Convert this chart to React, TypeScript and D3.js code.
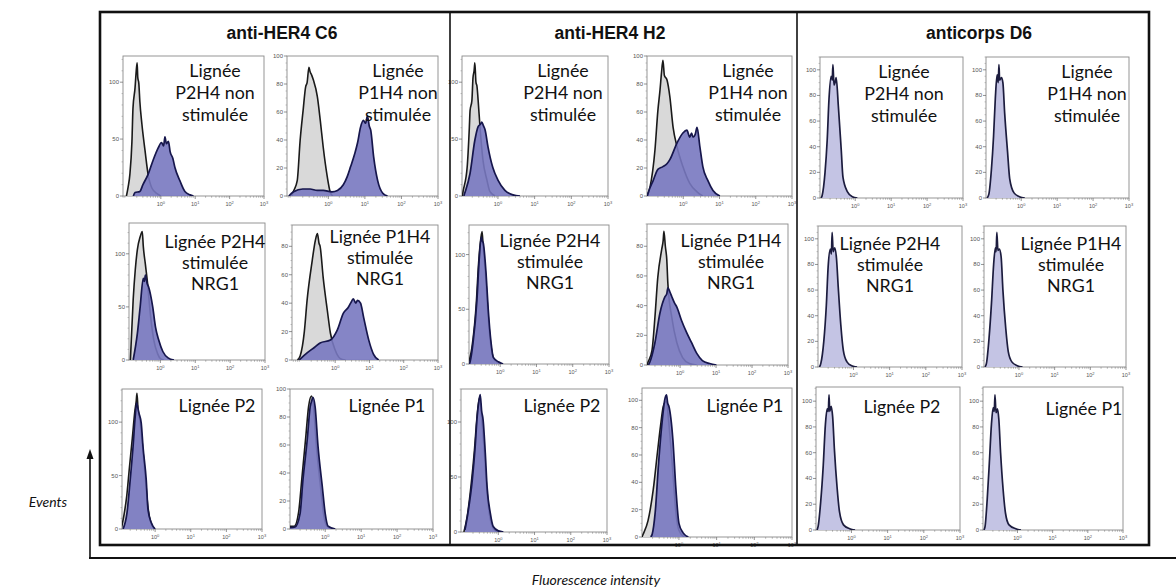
import React from "react";
import * as d3 from "d3";

type Pt = [number, number];

// ---------- text data ----------
const groupTitles = ["anti-HER4 C6", "anti-HER4 H2", "anticorps D6"];
const labelP2H4ns = ["Lignée", "P2H4 non", "stimulée"];
const labelP1H4ns = ["Lignée", "P1H4 non", "stimulée"];
const labelP2H4s = ["Lignée P2H4", "stimulée", "NRG1"];
const labelP1H4s = ["Lignée P1H4", "stimulée", "NRG1"];
const labelP2 = ["Lignée P2"];
const labelP1 = ["Lignée P1"];
const xTickValues = [0, 1, 2, 3];
const xTickBase = "10";
const xTickExponents = ["0", "1", "2", "3"];
const yAxisTitle = "Events";
const xAxisTitle = "Fluorescence intensity";

// ---------- axis domains per panel (log10 fluorescence min, count max, tick step) ----------
const xMins = [-1.1, -1.13, -0.9, -1.26, -0.93, -0.98, -0.98, -1.0, -0.86, -0.92, -1.03, -0.98, -0.98, -0.98, -0.98, -0.98, -0.98, -0.98];
const yMaxes = [123, 100, 129, 95, 131, 100, 123, 100, 127, 95, 130, 109, 110, 110, 110, 110, 111, 111];
const yTickSteps = [50, 20, 50, 20, 50, 20, 50, 20, 50, 20, 50, 20, 20, 20, 20, 20, 20, 20];
const xMaxLog = 3;

// ---------- histogram series: [log10 intensity, events] ----------
// anti-HER4 C6
const c6P2H4nsControl: Pt[] = [[-1.0, 0], [-0.95, 8], [-0.9, 19], [-0.84, 48], [-0.81, 77], [-0.75, 95], [-0.72, 108], [-0.69, 117], [-0.67, 104], [-0.64, 99], [-0.61, 83], [-0.55, 63], [-0.46, 40], [-0.37, 19], [-0.26, 7], [-0.11, 2], [0.0, 0]];
const c6P2H4nsStain: Pt[] = [[-0.8, 0], [-0.75, 3], [-0.61, 4], [-0.52, 10], [-0.37, 19], [-0.23, 31], [-0.08, 42], [0.02, 47], [0.08, 44], [0.12, 52], [0.16, 46], [0.22, 48], [0.27, 39], [0.35, 33], [0.41, 25], [0.56, 13], [0.7, 4], [0.85, 1], [0.95, 0]];
const c6P1H4nsControl: Pt[] = [[-1.0, 0], [-0.96, 3], [-0.85, 11], [-0.77, 40], [-0.69, 61], [-0.62, 78], [-0.58, 81], [-0.53, 92], [-0.5, 89], [-0.45, 86], [-0.41, 83], [-0.3, 71], [-0.22, 54], [-0.14, 35], [-0.03, 14], [0.05, 3], [0.12, 0]];
const c6P1H4nsStain: Pt[] = [[-1.08, 0], [-0.95, 3], [-0.7, 5], [-0.5, 5], [-0.3, 4], [-0.14, 4], [0.1, 3], [0.25, 4], [0.41, 8], [0.52, 14], [0.61, 21], [0.72, 30], [0.8, 38], [0.88, 49], [0.96, 54], [1.02, 52], [1.07, 57], [1.12, 50], [1.16, 47], [1.24, 28], [1.35, 11], [1.49, 2], [1.62, 0]];
const c6P2H4sControl: Pt[] = [[-0.86, 0], [-0.78, 57], [-0.72, 85], [-0.66, 104], [-0.58, 116], [-0.52, 121], [-0.49, 107], [-0.43, 90], [-0.37, 73], [-0.28, 41], [-0.19, 19], [-0.08, 6], [0.01, 1], [0.1, 0]];
const c6P2H4sStain: Pt[] = [[-0.78, 0], [-0.66, 25], [-0.58, 50], [-0.49, 77], [-0.46, 74], [-0.43, 80], [-0.38, 72], [-0.34, 69], [-0.22, 50], [-0.14, 31], [-0.05, 19], [0.07, 8], [0.22, 2], [0.39, 0]];
const c6P1H4sControl: Pt[] = [[-1.1, 0], [-1.02, 3], [-0.9, 20], [-0.82, 42], [-0.67, 70], [-0.58, 84], [-0.52, 89], [-0.47, 82], [-0.44, 80], [-0.35, 58], [-0.23, 35], [-0.14, 19], [0.0, 7], [0.15, 1], [0.3, 0]];
const c6P1H4sStain: Pt[] = [[-1.05, 0], [-0.82, 5], [-0.6, 9], [-0.44, 12], [-0.14, 14], [0.06, 21], [0.24, 33], [0.38, 37], [0.45, 40], [0.53, 43], [0.6, 40], [0.65, 42], [0.74, 40], [0.83, 30], [0.98, 14], [1.12, 4], [1.27, 0]];
const c6P2Control: Pt[] = [[-0.95, 0], [-0.88, 12], [-0.8, 30], [-0.72, 58], [-0.64, 85], [-0.57, 110], [-0.53, 120], [-0.51, 127], [-0.48, 112], [-0.42, 100], [-0.36, 80], [-0.28, 50], [-0.2, 20], [-0.12, 6], [-0.02, 0]];
const c6P2Stain: Pt[] = [[-0.9, 0], [-0.79, 15], [-0.7, 46], [-0.62, 77], [-0.56, 105], [-0.52, 118], [-0.49, 114], [-0.45, 108], [-0.39, 99], [-0.34, 77], [-0.25, 46], [-0.2, 18], [-0.11, 6], [0.0, 0]];
const c6P1Control: Pt[] = [[-0.98, 2], [-0.86, 2], [-0.74, 12], [-0.65, 36], [-0.54, 66], [-0.46, 88], [-0.38, 95], [-0.32, 86], [-0.24, 58], [-0.12, 28], [-0.04, 10], [0.05, 2], [0.2, 0]];
const c6P1Stain: Pt[] = [[-0.98, 1], [-0.84, 1.5], [-0.7, 11], [-0.62, 35], [-0.5, 64], [-0.42, 87], [-0.37, 92], [-0.34, 94], [-0.28, 87], [-0.2, 59], [-0.08, 30], [0.0, 11], [0.08, 2], [0.28, 0]];
// anti-HER4 H2
const h2P2H4nsControl: Pt[] = [[-0.97, 0], [-0.95, 4], [-0.84, 25], [-0.78, 60], [-0.76, 75], [-0.71, 84], [-0.68, 104], [-0.65, 110], [-0.63, 117], [-0.6, 100], [-0.57, 96], [-0.54, 84], [-0.49, 61], [-0.41, 32], [-0.3, 14], [-0.22, 4], [-0.08, 0]];
const h2P2H4nsStain: Pt[] = [[-0.93, 0], [-0.9, 3], [-0.76, 20], [-0.63, 49], [-0.54, 61], [-0.48, 63], [-0.44, 65], [-0.4, 62], [-0.35, 58], [-0.27, 43], [-0.14, 25], [0.0, 14], [0.19, 5], [0.41, 1], [0.6, 0]];
const h2P1H4nsControl: Pt[] = [[-1.0, 0], [-0.92, 6], [-0.78, 33], [-0.7, 61], [-0.64, 76], [-0.6, 88], [-0.56, 97], [-0.52, 86], [-0.45, 83], [-0.37, 71], [-0.28, 49], [-0.17, 35], [-0.01, 21], [0.18, 9], [0.38, 3], [0.54, 0]];
const h2P1H4nsStain: Pt[] = [[-0.99, 0], [-0.97, 2], [-0.83, 11], [-0.7, 19], [-0.56, 21], [-0.45, 23], [-0.37, 26], [-0.17, 38], [-0.01, 45], [0.1, 47], [0.18, 42], [0.23, 45], [0.27, 42], [0.33, 44], [0.38, 49], [0.46, 35], [0.54, 21], [0.68, 11], [0.82, 4], [1.01, 0]];
const h2P2H4sControl: Pt[] = [[-0.88, 0], [-0.78, 15], [-0.66, 55], [-0.6, 90], [-0.55, 110], [-0.5, 121], [-0.47, 108], [-0.4, 80], [-0.34, 48], [-0.26, 18], [-0.18, 5], [-0.05, 1], [0.05, 0]];
const h2P2H4sStain: Pt[] = [[-0.85, 0], [-0.83, 2], [-0.75, 19], [-0.64, 59], [-0.58, 95], [-0.52, 116], [-0.49, 112], [-0.47, 111], [-0.39, 83], [-0.33, 50], [-0.25, 19], [-0.19, 6], [-0.05, 2], [0.08, 0]];
const h2P1H4sControl: Pt[] = [[-0.92, 0], [-0.89, 2], [-0.78, 10], [-0.7, 32], [-0.62, 59], [-0.51, 78], [-0.47, 84], [-0.45, 90], [-0.41, 80], [-0.37, 71], [-0.34, 55], [-0.23, 32], [-0.09, 15], [0.07, 5], [0.26, 1], [0.46, 0]];
const h2P1H4sStain: Pt[] = [[-0.88, 0], [-0.84, 2], [-0.7, 15], [-0.56, 35], [-0.42, 46], [-0.37, 48], [-0.34, 52], [-0.28, 49], [-0.23, 46], [-0.16, 42], [-0.09, 39], [0.04, 30], [0.18, 22], [0.32, 15], [0.46, 8], [0.62, 3], [0.82, 1], [1.01, 0]];
const h2P2Control: Pt[] = [[-0.95, 0], [-0.86, 14], [-0.75, 43], [-0.66, 74], [-0.6, 100], [-0.52, 122], [-0.45, 100], [-0.38, 70], [-0.32, 40], [-0.24, 15], [-0.15, 4], [-0.02, 0]];
const h2P2Stain: Pt[] = [[-0.92, 2], [-0.84, 17], [-0.72, 47], [-0.64, 77], [-0.59, 102], [-0.54, 118], [-0.5, 125], [-0.46, 110], [-0.42, 102], [-0.36, 72], [-0.31, 41], [-0.22, 17], [-0.14, 5], [0.0, 1], [0.14, 0]];
const h2P1Control: Pt[] = [[-0.98, 0], [-0.95, 2], [-0.82, 12], [-0.68, 35], [-0.57, 62], [-0.49, 81], [-0.41, 96], [-0.33, 99], [-0.27, 84], [-0.16, 47], [-0.08, 18], [0.0, 5], [0.14, 0]];
const h2P1Stain: Pt[] = [[-0.75, 0], [-0.71, 2], [-0.63, 18], [-0.54, 54], [-0.44, 86], [-0.38, 100], [-0.33, 104], [-0.3, 98], [-0.27, 96], [-0.16, 71], [-0.08, 35], [0.0, 10], [0.11, 3], [0.25, 0]];
// anticorps D6 (single lavender histogram)
const d6P2H4nsStain: Pt[] = [[-0.95, 0], [-0.92, 2], [-0.84, 20], [-0.78, 45], [-0.73, 77], [-0.67, 95], [-0.64, 92], [-0.62, 104], [-0.59, 88], [-0.56, 90], [-0.53, 94], [-0.47, 72], [-0.39, 38], [-0.34, 16], [-0.22, 5], [-0.08, 1], [0.06, 0]];
const d6P1H4nsStain: Pt[] = [[-0.95, 0], [-0.9, 3], [-0.83, 22], [-0.77, 48], [-0.72, 78], [-0.67, 96], [-0.64, 90], [-0.62, 104], [-0.6, 92], [-0.55, 94], [-0.51, 90], [-0.46, 66], [-0.38, 36], [-0.32, 15], [-0.2, 4], [-0.05, 1], [0.1, 0]];
const d6P2H4sStain: Pt[] = [[-0.94, 0], [-0.9, 3], [-0.82, 20], [-0.75, 48], [-0.7, 78], [-0.64, 92], [-0.61, 88], [-0.59, 105], [-0.56, 90], [-0.52, 93], [-0.47, 85], [-0.42, 62], [-0.35, 33], [-0.28, 13], [-0.18, 4], [-0.05, 1], [0.1, 0]];
const d6P1H4sStain: Pt[] = [[-0.95, 0], [-0.91, 3], [-0.84, 22], [-0.77, 50], [-0.71, 80], [-0.66, 93], [-0.64, 90], [-0.62, 105], [-0.59, 91], [-0.55, 92], [-0.5, 86], [-0.45, 60], [-0.37, 30], [-0.3, 12], [-0.2, 4], [-0.05, 1], [0.1, 0]];
const d6P2Stain: Pt[] = [[-0.95, 0], [-0.92, 3], [-0.85, 22], [-0.78, 50], [-0.72, 82], [-0.67, 94], [-0.64, 92], [-0.62, 105], [-0.6, 92], [-0.56, 96], [-0.52, 88], [-0.47, 62], [-0.4, 34], [-0.33, 14], [-0.22, 4], [-0.05, 1], [0.1, 0]];
const d6P1Stain: Pt[] = [[-0.95, 0], [-0.92, 3], [-0.86, 24], [-0.8, 52], [-0.74, 82], [-0.69, 95], [-0.66, 92], [-0.64, 105], [-0.61, 91], [-0.57, 94], [-0.53, 86], [-0.48, 60], [-0.41, 32], [-0.34, 13], [-0.24, 4], [-0.05, 1], [0.1, 0]];

const controls: Pt[][] = [
  c6P2H4nsControl, c6P1H4nsControl, c6P2H4sControl, c6P1H4sControl, c6P2Control, c6P1Control,
  h2P2H4nsControl, h2P1H4nsControl, h2P2H4sControl, h2P1H4sControl, h2P2Control, h2P1Control,
  [], [], [], [], [], [],
];
const stains: Pt[][] = [
  c6P2H4nsStain, c6P1H4nsStain, c6P2H4sStain, c6P1H4sStain, c6P2Stain, c6P1Stain,
  h2P2H4nsStain, h2P1H4nsStain, h2P2H4sStain, h2P1H4sStain, h2P2Stain, h2P1Stain,
  d6P2H4nsStain, d6P1H4nsStain, d6P2H4sStain, d6P1H4sStain, d6P2Stain, d6P1Stain,
];
const labels: string[][] = [
  labelP2H4ns, labelP1H4ns, labelP2H4s, labelP1H4s, labelP2, labelP1,
  labelP2H4ns, labelP1H4ns, labelP2H4s, labelP1H4s, labelP2, labelP1,
  labelP2H4ns, labelP1H4ns, labelP2H4s, labelP1H4s, labelP2, labelP1,
];

// ---------- layout (pixels) ----------
const boxes: [number, number, number, number][] = [
  [123, 264, 56, 196], [287, 438, 56, 196],
  [129, 265, 223, 360], [292, 438, 225, 360],
  [122, 262, 389, 529], [290, 433, 389, 529],
  [462, 608, 56, 196], [647, 792, 56, 196],
  [469, 609, 225, 364], [647, 788, 224, 365],
  [461, 607, 389, 532], [642, 792, 388, 537],
  [820, 963, 57, 198], [986, 1129, 57, 198],
  [818, 962, 226, 367], [984, 1126, 226, 367],
  [816, 960, 387, 530], [983, 1123, 387, 530],
];
const labelAnchors: [number, number][] = [
  [215, 77], [398, 77], [215, 248], [380, 243], [217, 412], [387, 412],
  [563, 77], [748, 77], [550, 247], [731, 247], [562, 412], [745, 412],
  [904, 78], [1087, 78], [890, 250], [1071, 250], [902, 413], [1084, 415],
];
const titleX = [282, 610, 979];

const LABEL_FONT = "Lato, 'Open Sans', sans-serif";
const TICK_FONT = "'Liberation Sans', Arial, sans-serif";

function Panel({ i }: { i: number }) {
  const [x0, x1, y0, y1] = boxes[i];
  const group = Math.floor(i / 6);
  const x = d3.scaleLog().domain([Math.pow(10, xMins[i]), Math.pow(10, xMaxLog)]).range([x0, x1]);
  const y = d3.scaleLinear().domain([0, yMaxes[i]]).range([y1, y0]);
  const area = d3
    .area<Pt>()
    .x((d) => x(Math.pow(10, d[0])))
    .y0(y(0))
    .y1((d) => y(d[1]))
    .curve(d3.curveMonotoneX);
  const line = d3
    .line<Pt>()
    .x((d) => x(Math.pow(10, d[0])))
    .y((d) => y(d[1]))
    .curve(d3.curveMonotoneX);
  const step = yTickSteps[i];
  const majors = d3.range(0, yMaxes[i] + 0.001, step);
  const minorStep = step === 50 ? 10 : 5;
  const minors = d3.range(0, yMaxes[i] + 0.001, minorStep).filter((v) => v % step !== 0);
  const xMinorTicks: number[] = [];
  for (let dExp = -2; dExp <= 2; dExp++) {
    for (let k = 2; k <= 9; k++) {
      const v = k * Math.pow(10, dExp);
      const lv = Math.log10(v);
      if (lv >= xMins[i] && lv <= xMaxLog) xMinorTicks.push(v);
    }
  }
  const stainFill = group === 2 ? "#c4c4e4" : "#7878c0";
  const stainStroke = group === 2 ? "#1c1c3e" : "#16164c";
  const clipId = `clip-${i}`;
  const lines = labels[i];
  const [lx, ly] = labelAnchors[i];
  const lh = lines.length === 3 && lines[0].length > 8 ? 21 : 22;
  return (
    <g>
      <defs>
        <clipPath id={clipId}>
          <rect x={x0} y={y0 - 2} width={x1 - x0} height={y1 - y0 + 2} />
        </clipPath>
      </defs>
      <rect x={x0} y={y0} width={x1 - x0} height={y1 - y0} fill="#fff" stroke="#8a8a8a" strokeWidth={0.9} />
      <g clipPath={`url(#${clipId})`}>
        {controls[i].length > 0 && (
          <>
            <path d={area(controls[i]) || ""} fill="#d9d9d9" />
            <path d={line(controls[i]) || ""} fill="none" stroke="#1a1a1a" strokeWidth={1.6} />
          </>
        )}
        <path d={area(stains[i]) || ""} fill={stainFill} fillOpacity={group === 2 ? 1 : 0.9} />
        <path d={line(stains[i]) || ""} fill="none" stroke={stainStroke} strokeWidth={1.7} />
      </g>
      {majors.map((v) => (
        <g key={`yM${v}`}>
          <line x1={x0 - 3} x2={x0} y1={y(v)} y2={y(v)} stroke="#666" strokeWidth={0.7} />
          <text x={x0 - 4} y={y(v) + 2} fontSize={6} fill="#555" textAnchor="end" fontFamily={TICK_FONT}>
            {v}
          </text>
        </g>
      ))}
      {minors.map((v) => (
        <line key={`ym${v}`} x1={x0 - 1.5} x2={x0} y1={y(v)} y2={y(v)} stroke="#888" strokeWidth={0.5} />
      ))}
      {xMinorTicks.map((v) => (
        <line key={`xm${v}`} x1={x(v)} x2={x(v)} y1={y1} y2={y1 + 1.8} stroke="#777" strokeWidth={0.5} />
      ))}
      {xTickValues.map((lv, k) => {
        const px = x(Math.pow(10, lv));
        return (
          <g key={`xM${lv}`}>
            <line x1={px} x2={px} y1={y1} y2={y1 + 3} stroke="#666" strokeWidth={0.7} />
            <text x={px} y={y1 + 10} fontSize={5.5} fill="#555" textAnchor="middle" fontFamily={TICK_FONT}>
              {xTickBase}
              <tspan dy={-2.5} fontSize={4}>
                {xTickExponents[k]}
              </tspan>
            </text>
          </g>
        );
      })}
      <text x={lx} y={ly} fontSize={17.8} fontFamily={LABEL_FONT} fill="#111" textAnchor="middle">
        {lines.map((s, k) => (
          <tspan key={k} x={lx} y={ly + k * lh}>
            {s}
          </tspan>
        ))}
      </text>
    </g>
  );
}

export default function App() {
  const W = 1176;
  const H = 588;
  const frame = { x0: 100, x1: 1149, y0: 12, y1: 545 };
  const dividers = [450, 797];
  return (
    <svg
      width={W}
      height={H}
      viewBox={`0 0 ${W} ${H}`}
      style={{ position: "absolute", left: 0, top: 0, background: "#fff" }}
    >
      <rect x={0} y={0} width={W} height={H} fill="#fff" />
      {d3.range(18).map((i) => (
        <Panel key={i} i={i} />
      ))}
      {groupTitles.map((t, g) => (
        <text
          key={t}
          x={titleX[g]}
          y={39}
          fontSize={17.5}
          fontWeight="bold"
          fontFamily={TICK_FONT}
          textAnchor="middle"
          fill="#111"
        >
          {t}
        </text>
      ))}
      <rect
        x={frame.x0}
        y={frame.y0}
        width={frame.x1 - frame.x0}
        height={frame.y1 - frame.y0}
        fill="none"
        stroke="#111"
        strokeWidth={2.6}
      />
      {dividers.map((dx) => (
        <line key={dx} x1={dx} x2={dx} y1={frame.y0} y2={frame.y1} stroke="#111" strokeWidth={1.6} />
      ))}
      <line x1={90} x2={90} y1={558} y2={458} stroke="#111" strokeWidth={1.6} />
      <polygon points="90,449 86.5,459 93.5,459" fill="#111" />
      <line x1={89} x2={W} y1={558} y2={558} stroke="#111" strokeWidth={2} />
      <text x={48} y={507} fontSize={14} fontStyle="italic" fontFamily={LABEL_FONT} textAnchor="middle" fill="#111">
        {yAxisTitle}
      </text>
      <text x={596} y={585} fontSize={14} fontStyle="italic" fontFamily={LABEL_FONT} textAnchor="middle" fill="#111">
        {xAxisTitle}
      </text>
    </svg>
  );
}
